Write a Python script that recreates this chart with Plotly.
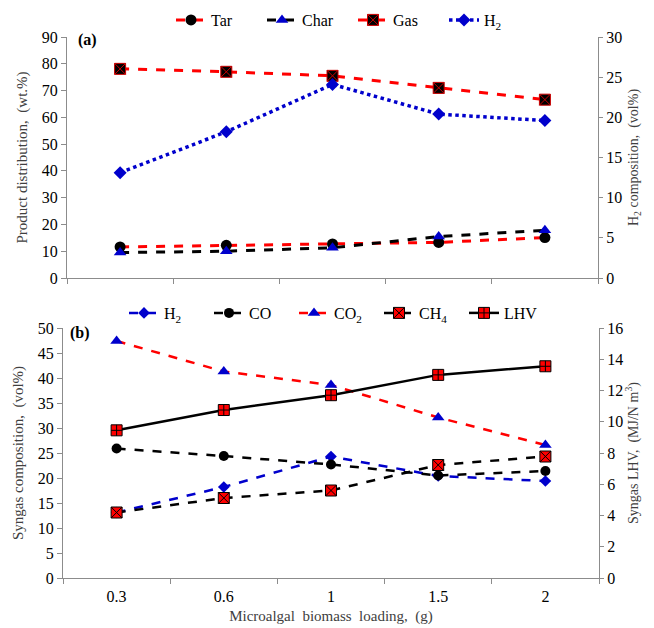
import plotly.graph_objects as go

loading = ["0.3", "0.6", "1", "1.5", "2"]

# Panel (a): product distribution (wt.%) and H2 composition (vol%)
tar = [11.6, 12.2, 12.7, 13.3, 15.1]
char = [9.5, 10.0, 11.3, 15.5, 17.8]
gas = [78.1, 77.0, 75.5, 71.0, 66.6]
h2_a = [13.1, 18.2, 24.1, 20.4, 19.6]

# Panel (b): syngas composition (vol%) and LHV (MJ/N m3)
h2_b = [13.1, 18.2, 24.3, 20.4, 19.4]
co = [25.9, 24.4, 22.7, 20.5, 21.4]
co2 = [47.4, 41.3, 38.6, 32.1, 26.6]
ch4 = [13.1, 16.0, 17.5, 22.6, 24.3]
lhv = [9.45, 10.75, 11.7, 13.0, 13.55]

FONT = "Liberation Serif"
OFF = 8                      # default page body margin
W, H = 654 - OFF, 628 - OFF  # figure size so it fills the window exactly

def px(x):
    return (x - OFF) / W

def py(y):
    return 1 - (y - OFF) / H

fig = go.Figure()

# ---------- panel (a)
fig.add_trace(go.Scatter(x=loading, y=tar, name="Tar", mode="lines+markers",
                         line=dict(color="#ff0000", width=3, dash="dash"),
                         marker=dict(symbol="circle", size=11, color="black"),
                         xaxis="x", yaxis="y", legend="legend"))
fig.add_trace(go.Scatter(x=loading, y=char, name="Char", mode="lines+markers",
                         line=dict(color="black", width=3, dash="dash"),
                         marker=dict(symbol="triangle-up", size=11, color="#0000cc"),
                         xaxis="x", yaxis="y", legend="legend"))
fig.add_trace(go.Scatter(x=loading, y=gas, name="Gas", mode="lines+markers",
                         line=dict(color="#ff0000", width=3, dash="dash"),
                         marker=dict(symbol="square-x", size=11, color="black",
                                     line=dict(color="#cc0000", width=1)),
                         xaxis="x", yaxis="y", legend="legend"))
fig.add_trace(go.Scatter(x=loading, y=h2_a, name="H<sub>2</sub>", mode="lines+markers",
                         line=dict(color="#0000cc", width=3.5, dash="dot"),
                         marker=dict(symbol="diamond", size=10, color="#0000cc"),
                         xaxis="x", yaxis="y2", legend="legend"))

# ---------- panel (b)
fig.add_trace(go.Scatter(x=loading, y=h2_b, name="H<sub>2</sub>", mode="lines+markers",
                         line=dict(color="#0000cc", width=2.5, dash="dash"),
                         marker=dict(symbol="diamond", size=9, color="#0000cc"),
                         xaxis="x2", yaxis="y3", legend="legend2"))
fig.add_trace(go.Scatter(x=loading, y=co, name="CO", mode="lines+markers",
                         line=dict(color="black", width=2.5, dash="dash"),
                         marker=dict(symbol="circle", size=10, color="black"),
                         xaxis="x2", yaxis="y3", legend="legend2"))
fig.add_trace(go.Scatter(x=loading, y=co2, name="CO<sub>2</sub>", mode="lines+markers",
                         line=dict(color="#ff0000", width=2.5, dash="dash"),
                         marker=dict(symbol="triangle-up", size=11, color="#0000cc"),
                         xaxis="x2", yaxis="y3", legend="legend2"))
fig.add_trace(go.Scatter(x=loading, y=ch4, name="CH<sub>4</sub>", mode="lines+markers",
                         line=dict(color="black", width=2.5, dash="dash"),
                         marker=dict(symbol="square-x", size=11, color="#ff0000",
                                     line=dict(color="black", width=1)),
                         xaxis="x2", yaxis="y3", legend="legend2"))
fig.add_trace(go.Scatter(x=loading, y=lhv, name="LHV", mode="lines+markers",
                         line=dict(color="black", width=2.5),
                         marker=dict(symbol="square-cross", size=11, color="#ff0000",
                                     line=dict(color="black", width=1)),
                         xaxis="x2", yaxis="y4", legend="legend2"))

axis_common = dict(showline=True, linecolor="#8c8c8c", linewidth=1.2,
                   ticks="outside", tickcolor="#8c8c8c",
                   showgrid=False, zeroline=False,
                   tickfont=dict(family=FONT, size=16, color="black"))

title_font = dict(family=FONT, size=15, color="#404040")
rtitle_font = dict(family=FONT, size=14, color="#404040")

ya = [py(278), py(37)]
yb = [py(578), py(328)]

fig.update_layout(
    width=W, height=H,
    margin=dict(l=0, r=0, t=0, b=0, autoexpand=False),
    paper_bgcolor="white", plot_bgcolor="white",
    font=dict(family=FONT, size=15, color="black"),
    xaxis=dict(domain=[px(67), px(598)], anchor="y", type="category",
               range=[-0.5, 4.5], tickson="boundaries", showticklabels=False,
               ticklen=5, **axis_common),
    yaxis=dict(domain=ya, anchor="x", range=[0, 90], dtick=10, ticklen=5,
               title=dict(text="Product distribution,  (wt.%)", standoff=10,
                          font=title_font),
               **axis_common),
    yaxis2=dict(domain=ya, anchor="x", overlaying="y", side="right",
                range=[0, 30], dtick=5, ticklen=4,
                title=dict(text="H<sub>2</sub> composition,  (vol%)", standoff=6,
                           font=rtitle_font),
                **axis_common),
    xaxis2=dict(domain=[px(63), px(599)], anchor="y3", type="category",
                range=[-0.5, 4.5], tickson="boundaries", ticklabelstandoff=4,
                ticklen=5,
                title=dict(text="Microalgal  biomass  loading,  (g)", standoff=6,
                           font=title_font),
                **axis_common),
    yaxis3=dict(domain=yb, anchor="x2", range=[0, 50], dtick=5, ticklen=5,
                title=dict(text="Syngas composition,  (vol%)", standoff=10,
                           font=title_font),
                **axis_common),
    yaxis4=dict(domain=yb, anchor="x2", overlaying="y3", side="right",
                range=[0, 16], dtick=2, ticklen=4,
                title=dict(text="Syngas LHV,  (MJ/N m<sup>3</sup>)", standoff=3,
                           font=rtitle_font),
                **axis_common),
    legend=dict(orientation="h", x=px(171), y=py(20), xanchor="left", yanchor="middle",
                font=dict(family=FONT, size=16), bgcolor="rgba(0,0,0,0)",
                itemwidth=30, tracegroupgap=0, entrywidth=46, entrywidthmode="pixels"),
    legend2=dict(orientation="h", x=px(124), y=py(313), xanchor="left", yanchor="middle",
                 font=dict(family=FONT, size=16), bgcolor="rgba(0,0,0,0)",
                 itemwidth=30, tracegroupgap=0, entrywidth=40, entrywidthmode="pixels"),
    annotations=[
        dict(text="<b>(a)</b>", x=px(76), y=py(40), xref="paper", yref="paper",
             xanchor="left", yanchor="middle", showarrow=False,
             font=dict(family=FONT, size=16, color="black")),
        dict(text="<b>(b)</b>", x=px(68), y=py(333), xref="paper", yref="paper",
             xanchor="left", yanchor="middle", showarrow=False,
             font=dict(family=FONT, size=16, color="black")),
    ],
)

fig.write_html("out.html")
